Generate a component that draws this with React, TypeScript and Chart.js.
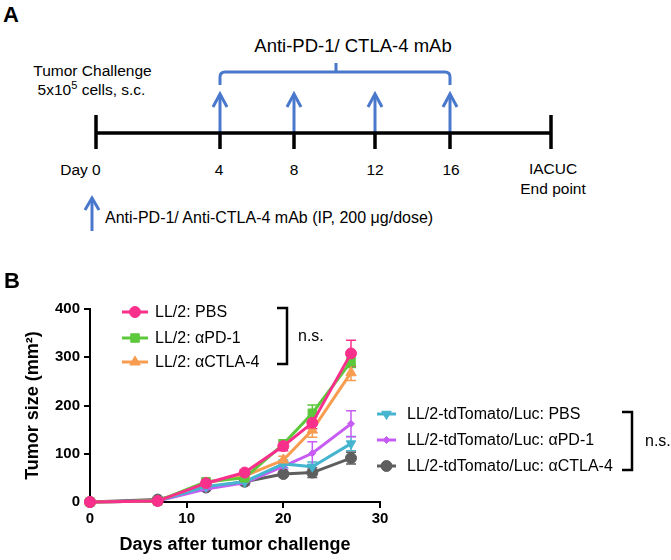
import React, { useEffect, useRef } from 'react';
import { Chart, registerables } from 'chart.js';
import { drawPoint } from 'chart.js/helpers';

Chart.register(...registerables);

// ---- data ----
const days = [0, 7, 12, 16, 20, 23, 27];
const seriesLabels = [
  'LL/2: PBS',
  'LL/2: \u03b1PD-1',
  'LL/2: \u03b1CTLA-4',
  'LL/2-tdTomato/Luc: PBS',
  'LL/2-tdTomato/Luc: \u03b1PD-1',
  'LL/2-tdTomato/Luc: \u03b1CTLA-4',
];
const ll2Pbs = [0, 2, 39, 61, 116, 164, 308];
const ll2PbsErr = [0, 1, 4, 5, 10, 12, 27];
const ll2Pd1 = [0, 2, 42, 50, 120, 184, 291];
const ll2Pd1Err = [0, 1, 4, 4, 9, 17, 12];
const ll2Ctla4 = [0, 2, 40, 54, 87, 149, 268];
const ll2Ctla4Err = [0, 1, 4, 4, 8, 15, 16];
const tdPbs = [0, 2, 32, 42, 79, 73, 121];
const tdPbsErr = [0, 1, 3, 4, 8, 10, 15];
const tdPd1 = [0, 2, 27, 40, 74, 101, 162];
const tdPd1Err = [0, 1, 3, 6, 6, 24, 27];
const tdCtla4 = [0, 5, 30, 42, 58, 61, 91];
const tdCtla4Err = [0, 1, 3, 3, 5, 10, 12];
const xTickValues = [0, 10, 20, 30];
const yTickValues = [0, 100, 200, 300, 400];
const timelineDays = ['Day 0', '4', '8', '12', '16'];

const FONT = '"Liberation Sans", Arial, Helvetica, sans-serif';
const colors = ['#F8308C', '#5CC83B', '#F89C50', '#45B4CE', '#C75CF4', '#5E5E5E'];
const styles = [
  { pointStyle: 'circle', radius: 5.5, rotation: 0 },
  { pointStyle: 'rect', radius: 6, rotation: 0 },
  { pointStyle: 'triangle', radius: 6, rotation: 0 },
  { pointStyle: 'triangle', radius: 5.5, rotation: 180 },
  { pointStyle: 'rectRot', radius: 3.5, rotation: 0 },
  { pointStyle: 'circle', radius: 5.5, rotation: 0 },
];
const seriesValues = [ll2Pbs, ll2Pd1, ll2Ctla4, tdPbs, tdPd1, tdCtla4];
const seriesErrors = [ll2PbsErr, ll2Pd1Err, ll2Ctla4Err, tdPbsErr, tdPd1Err, tdCtla4Err];

const errorBarPlugin = {
  id: 'errorBars',
  beforeDatasetsDraw(chart: any) {
    const ctx = chart.ctx;
    const xs = chart.scales.x;
    const ys = chart.scales.y;
    ctx.save();
    chart.data.datasets.forEach((ds: any, i: number) => {
      const errs = seriesErrors[i];
      ctx.strokeStyle = ds.borderColor;
      ctx.lineWidth = 1.5;
      ds.data.forEach((p: any, j: number) => {
        const e = errs[j];
        if (!e || e < 3) return;
        const px = xs.getPixelForValue(p.x);
        const top = ys.getPixelForValue(p.y + e);
        const bot = ys.getPixelForValue(Math.max(0, p.y - e));
        ctx.beginPath();
        ctx.moveTo(px, top);
        ctx.lineTo(px, bot);
        ctx.moveTo(px - 5, top);
        ctx.lineTo(px + 5, top);
        ctx.moveTo(px - 5, bot);
        ctx.lineTo(px + 5, bot);
        ctx.stroke();
      });
    });
    ctx.restore();
  },
};

const legendPlugin = {
  id: 'customLegend',
  afterDraw(chart: any) {
    const ctx = chart.ctx;
    ctx.save();
    // panel letter
    ctx.fillStyle = '#000';
    ctx.font = `bold 22px ${FONT}`;
    ctx.textBaseline = 'alphabetic';
    ctx.textAlign = 'left';
    ctx.fillText('B', 4, 28);

    const groups = [
      { idx: [0, 1, 2], ys: [52, 78, 102], x0: 122, x1: 148, tx: 155, br: { x: 287, y0: 48, y1: 104, tick: 10 }, ns: { x: 298, y: 77 } },
      { idx: [3, 4, 5], ys: [154, 180, 206], x0: 377, x1: 396, tx: 407, br: { x: 632, y0: 152, y1: 210, tick: 10 }, ns: { x: 645, y: 182 } },
    ];
    groups.forEach((g) => {
      g.idx.forEach((di, k) => {
        const ds = chart.data.datasets[di];
        const y = g.ys[k];
        ctx.strokeStyle = ds.borderColor;
        ctx.fillStyle = ds.borderColor;
        ctx.lineWidth = 3;
        ctx.beginPath();
        ctx.moveTo(g.x0, y);
        ctx.lineTo(g.x1, y);
        ctx.stroke();
        const st = styles[di];
        ctx.lineWidth = 1;
        drawPoint(ctx, { pointStyle: st.pointStyle, rotation: st.rotation, radius: st.radius, borderWidth: 1 }, (g.x0 + g.x1) / 2, y);
        ctx.fillStyle = '#000';
        ctx.font = `16px ${FONT}`;
        ctx.textBaseline = 'middle';
        ctx.textAlign = 'left';
        ctx.fillText(ds.label, g.tx, y + 1);
      });
      ctx.strokeStyle = '#000';
      ctx.lineWidth = 2.5;
      ctx.beginPath();
      ctx.moveTo(g.br.x - g.br.tick, g.br.y0);
      ctx.lineTo(g.br.x, g.br.y0);
      ctx.lineTo(g.br.x, g.br.y1);
      ctx.lineTo(g.br.x - g.br.tick, g.br.y1);
      ctx.stroke();
      ctx.fillStyle = '#000';
      ctx.font = `16px ${FONT}`;
      ctx.textBaseline = 'middle';
      ctx.fillText('n.s.', g.ns.x, g.ns.y);
    });
    ctx.restore();
  },
};

function PanelA() {
  const blue = '#4A78CC';
  const arrowXs = [220, 294, 375, 450];
  const labelXs = [80.5, 219, 294, 375, 451];
  return (
    <svg width={671} height={260} style={{ position: 'absolute', left: 0, top: 0 }} fontFamily={FONT}>
      <text x={3} y={22} fontSize={22} fontWeight="bold">A</text>
      <text x={353} y={52} fontSize={18.5} textAnchor="middle">Anti-PD-1/ CTLA-4 mAb</text>
      <path d="M220,85 L220,77 Q220,72 225,72 L445,72 Q450,72 450,77 L450,85 M336,72 L336,63" stroke={blue} strokeWidth={3} fill="none" />
      {arrowXs.map((x) => (
        <g key={x}>
          <line x1={x} y1={133} x2={x} y2={95} stroke={blue} strokeWidth={3} />
          <polyline points={`${x - 7},${107} ${x},${94} ${x + 7},${107}`} stroke={blue} strokeWidth={3} fill="none" />
        </g>
      ))}
      <line x1={96} y1={133} x2={551} y2={133} stroke="#000" strokeWidth={3.5} />
      <line x1={96} y1={115} x2={96} y2={149} stroke="#000" strokeWidth={3.5} />
      <line x1={551} y1={115} x2={551} y2={149} stroke="#000" strokeWidth={3.5} />
      {arrowXs.map((x) => (
        <line key={'t' + x} x1={x} y1={133} x2={x} y2={149} stroke="#000" strokeWidth={3.5} />
      ))}
      {timelineDays.map((t, i) => (
        <text key={t} x={labelXs[i]} y={175} fontSize={15.5} textAnchor="middle">{t}</text>
      ))}
      <text x={553} y={174} fontSize={15.5} textAnchor="middle">IACUC</text>
      <text x={553} y={194} fontSize={15.5} textAnchor="middle">End point</text>
      <text x={92.5} y={76} fontSize={15.5} textAnchor="middle">Tumor Challenge</text>
      <text x={91.5} y={95} fontSize={15.5} textAnchor="middle">
        5x10<tspan dy={-6} fontSize={11}>5</tspan><tspan dy={6}> cells, s.c.</tspan>
      </text>
      <line x1={92} y1={231} x2={92} y2={199} stroke={blue} strokeWidth={3} />
      <polyline points="85,210 92,198 99,210" stroke={blue} strokeWidth={3} fill="none" />
      <text x={105} y={223} fontSize={16}>Anti-PD-1/ Anti-CTLA-4 mAb (IP, 200 {'\u03bc'}g/dose)</text>
    </svg>
  );
}

export default function App() {
  const ref = useRef<HTMLCanvasElement>(null);
  useEffect(() => {
    if (!ref.current) return;
    const datasets = seriesValues.map((vals, i) => ({
      label: seriesLabels[i],
      data: days.map((d, j) => ({ x: d, y: vals[j] })),
      borderColor: colors[i],
      backgroundColor: colors[i],
      borderWidth: 3,
      pointStyle: styles[i].pointStyle,
      pointRadius: styles[i].radius,
      pointRotation: styles[i].rotation,
      pointBorderWidth: 1,
      clip: false,
      tension: 0,
    }));
    const tickFont = { family: FONT, size: 15, weight: 'bold' as const };
    const chart = new Chart(ref.current, {
      type: 'line',
      data: { datasets },
      options: {
        animation: false,
        responsive: false,
        layout: { padding: { left: 0, right: 291, top: 49, bottom: 0 } },
        plugins: { legend: { display: false }, tooltip: { enabled: false } },
        scales: {
          x: {
            type: 'linear',
            min: 0,
            max: 30,
            afterFit: (s: any) => { s.height = 58; },
            afterBuildTicks: (s: any) => { s.ticks = xTickValues.map((v) => ({ value: v })); },
            ticks: { font: tickFont, color: '#000', padding: 2, maxRotation: 0 },
            grid: { drawOnChartArea: false, drawTicks: true, tickLength: 6, color: '#000', lineWidth: 2 },
            border: { display: true, color: '#000', width: 2 },
            title: { display: true, text: 'Days after tumor challenge', color: '#000', font: { family: FONT, size: 18, weight: 'bold' }, padding: { top: 0, bottom: 4 } },
          },
          y: {
            type: 'linear',
            min: 0,
            max: 400,
            afterFit: (s: any) => { s.width = 90; },
            afterBuildTicks: (s: any) => { s.ticks = yTickValues.map((v) => ({ value: v })); },
            ticks: { font: tickFont, color: '#000', padding: 4 },
            grid: { drawOnChartArea: false, drawTicks: true, tickLength: 6, color: '#000', lineWidth: 2 },
            border: { display: true, color: '#000', width: 2 },
            title: { display: true, text: 'Tumor size (mm\u00b2)', color: '#000', font: { family: FONT, size: 18, weight: 'bold' }, padding: { top: 22, bottom: 0 } },
          },
        },
      },
      plugins: [errorBarPlugin, legendPlugin],
    } as any);
    return () => chart.destroy();
  }, []);
  return (
    <div style={{ position: 'absolute', left: 0, top: 0, width: 671, height: 560, background: '#fff' }}>
      <PanelA />
      <canvas ref={ref} width={671} height={300} style={{ position: 'absolute', left: 0, top: 260, width: 671, height: 300 }} />
    </div>
  );
}
